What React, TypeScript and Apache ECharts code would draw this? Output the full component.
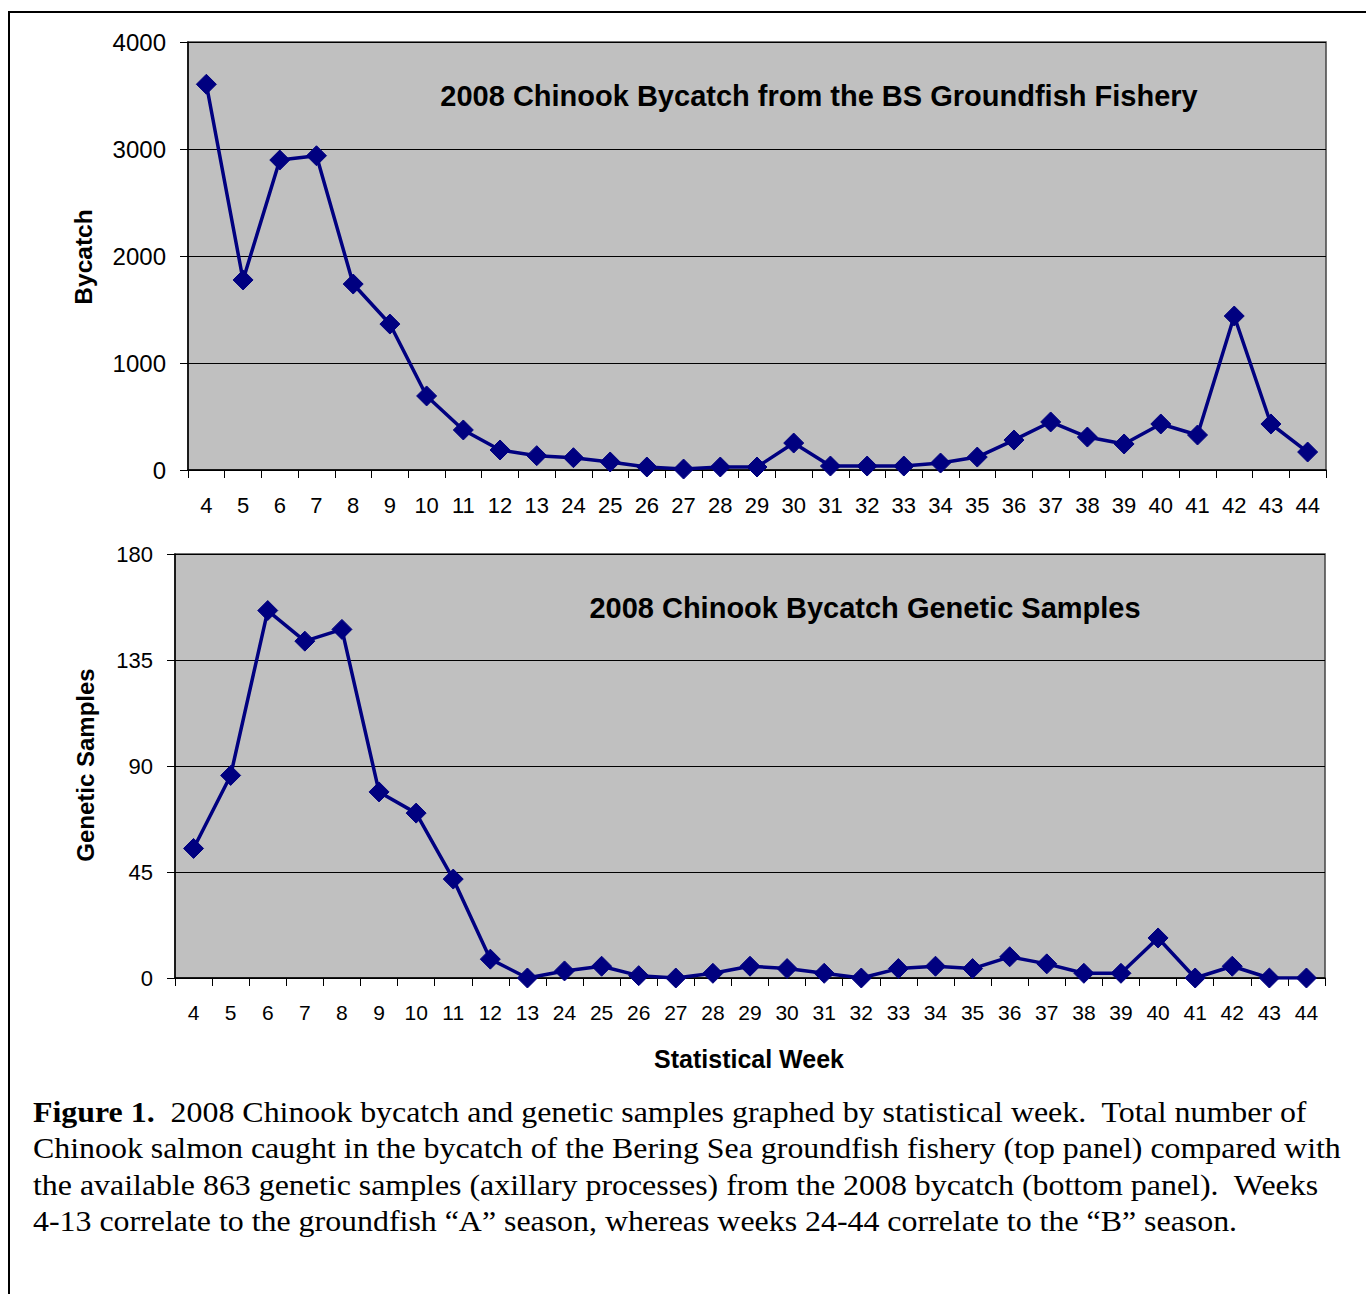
import React, { useEffect, useRef } from "react";
import * as echarts from "echarts";

// Statistical weeks: "A" season (4-13) followed by "B" season (24-44)
const weeks = [
  "4", "5", "6", "7", "8", "9", "10", "11", "12", "13",
  "24", "25", "26", "27", "28", "29", "30", "31", "32", "33", "34",
  "35", "36", "37", "38", "39", "40", "41", "42", "43", "44",
];

// Chinook bycatch counts per week
const bycatch = [
  3605, 1776, 2897, 2937, 1738, 1364, 692, 374, 187, 134,
  115, 75, 28, 9, 28, 28, 252, 37, 37, 37, 65,
  121, 280, 449, 308, 243, 430, 327, 1439, 430, 168,
];

// Genetic samples (axillary processes) per week, 863 in total
const samples = [
  55, 86, 156, 143, 148, 79, 70, 42, 8, 0,
  3, 5, 1, 0, 2, 5, 4, 2, 0, 4, 5,
  4, 9, 6, 2, 2, 17, 0, 5, 0, 0,
];

const bycatchTicks = { min: 0, max: 4000, interval: 1000 };
const sampleTicks = { min: 0, max: 180, interval: 45 };

const captionLines = [
  "{b|Figure 1.}  2008 Chinook bycatch and genetic samples graphed by statistical week.  Total number of",
  "Chinook salmon caught in the bycatch of the Bering Sea groundfish fishery (top panel) compared with",
  "the available 863 genetic samples (axillary processes) from the 2008 bycatch (bottom panel).  Weeks",
  "4-13 correlate to the groundfish \u201cA\u201d season, whereas weeks 24-44 correlate to the \u201cB\u201d season.",
];

const SANS = "'Liberation Sans', Arial, sans-serif";
const SERIF = "'Liberation Serif', 'Times New Roman', serif";
const NAVY = "#000080";

function xAxisFor(gridIndex: number, fontSize: number) {
  return {
    type: "category" as const,
    gridIndex,
    data: weeks,
    boundaryGap: true,
    axisLine: { show: true, lineStyle: { color: "#000", width: 1.5 } },
    axisTick: { show: true, length: 8, inside: false, lineStyle: { color: "#000", width: 1 } },
    axisLabel: {
      interval: 0,
      margin: 24,
      color: "#000",
      fontFamily: SANS,
      fontSize,
    },
    splitLine: { show: false },
  };
}

function yAxisFor(gridIndex: number, ticks: { min: number; max: number; interval: number }, fontSize: number) {
  return {
    type: "value" as const,
    gridIndex,
    min: ticks.min,
    max: ticks.max,
    interval: ticks.interval,
    axisLine: { show: true, lineStyle: { color: "#000", width: 1.5 } },
    axisTick: { show: true, length: 8, inside: false, lineStyle: { color: "#000", width: 1 } },
    axisLabel: {
      margin: 22,
      color: "#000",
      fontFamily: SANS,
      fontSize,
      formatter: (v: number) => String(v),
    },
    splitLine: { show: true, lineStyle: { color: "#000", width: 1 } },
  };
}

function lineSeries(axisIndex: number, data: number[]) {
  return {
    type: "line" as const,
    xAxisIndex: axisIndex,
    yAxisIndex: axisIndex,
    data,
    symbol: "diamond",
    symbolSize: 20,
    showSymbol: true,
    lineStyle: { color: NAVY, width: 3.5 },
    itemStyle: { color: NAVY, borderColor: NAVY },
    z: 5,
  };
}

function centeredText(text: string, x: number, y: number, fontSize: number, rotation = 0) {
  return {
    type: "text",
    x,
    y,
    rotation,
    style: {
      text,
      fill: "#000",
      fontFamily: SANS,
      fontSize,
      fontWeight: "bold",
      textAlign: "center",
      textVerticalAlign: "middle",
      align: "center",
      verticalAlign: "middle",
    },
    z: 100,
  };
}

export default function App() {
  const ref = useRef<HTMLDivElement>(null);

  useEffect(() => {
    if (!ref.current) return;
    const chart = echarts.init(ref.current, undefined, { renderer: "svg" });

    const captionGraphics = captionLines.map((line, i) => ({
      type: "text",
      x: 33,
      y: 1112 + i * 36.5,
      scaleX: 1.1,
      style: {
        text: line,
        fill: "#000",
        fontFamily: SERIF,
        fontSize: 29,
        textAlign: "left",
        textVerticalAlign: "middle",
        align: "left",
        verticalAlign: "middle",
        rich: {
          b: { fontFamily: SERIF, fontSize: 29, fontWeight: "bold", fill: "#000", color: "#000" },
        },
      },
      z: 100,
    }));

    chart.setOption({
      animation: false,
      backgroundColor: "#fff",
      grid: [
        {
          left: 188, top: 42, width: 1138, height: 428,
          show: true, backgroundColor: "#c0c0c0", borderColor: "#444", borderWidth: 1.5,
          containLabel: false,
        },
        {
          left: 175, top: 554, width: 1150, height: 424,
          show: true, backgroundColor: "#c0c0c0", borderColor: "#444", borderWidth: 1.5,
          containLabel: false,
        },
      ],
      xAxis: [xAxisFor(0, 22), xAxisFor(1, 21)],
      yAxis: [yAxisFor(0, bycatchTicks, 24), yAxisFor(1, sampleTicks, 22)],
      series: [lineSeries(0, bycatch), lineSeries(1, samples)],
      graphic: [
        {
          type: "rect",
          shape: { x: 9, y: 12, width: 1500, height: 1500 },
          style: { fill: "none", stroke: "#000", lineWidth: 2 },
          silent: true,
          z: 100,
        },
        centeredText("2008 Chinook Bycatch from the BS Groundfish Fishery", 819, 96, 29),
        centeredText("2008 Chinook Bycatch Genetic Samples", 865, 608, 29),
        centeredText("Bycatch", 83, 257, 24.5, Math.PI / 2),
        centeredText("Genetic Samples", 85, 765, 24, Math.PI / 2),
        centeredText("Statistical Week", 749, 1059, 25),
        ...captionGraphics,
      ],
    });

    return () => chart.dispose();
  }, []);

  return (
    <div
      ref={ref}
      style={{ position: "fixed", left: 0, top: 0, width: 1366, height: 1294, background: "#fff" }}
    />
  );
}
